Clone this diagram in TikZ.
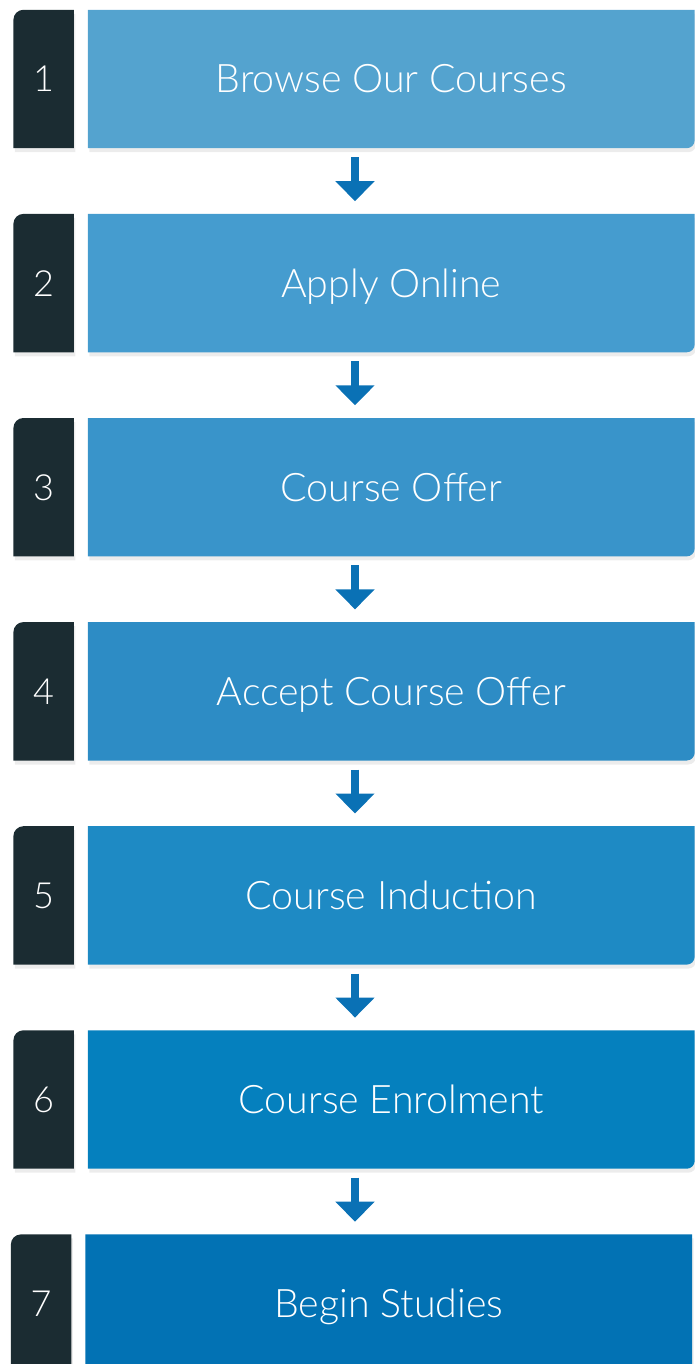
\documentclass[tikz,border=0pt]{standalone}
\usepackage{fontspec}
\setmainfont{Lato Light}
\usetikzlibrary{arrows.meta, positioning, backgrounds, shadows}
\definecolor{darkslate}{HTML}{1B2C32}
\definecolor{arrowblue}{HTML}{0A71B5}
\definecolor{s1}{HTML}{54A3CF}
\definecolor{s2}{HTML}{459CCF}
\definecolor{s3}{HTML}{3994CA}
\definecolor{s4}{HTML}{2D8CC5}
\definecolor{s5}{HTML}{1E8AC4}
\definecolor{s6}{HTML}{0580BE}
\definecolor{s7}{HTML}{0272B4}

\begin{document}
\begin{tikzpicture}[
        x=1pt, y=1pt,
        node distance=65.7pt and 14pt,
        stepbox/.style={minimum width=606.5pt, minimum height=138pt, inner sep=0pt, text=white, text height=28pt, text depth=0pt, font=\fontsize{39.3}{41}\selectfont},
        numbox/.style={minimum width=60pt, minimum height=138pt, inner sep=0pt, text=white, text height=26pt, text depth=0pt, font=\fontsize{36}{38}\selectfont},
        arrow/.style={-{Triangle[width=38pt, length=20pt]}, line width=8pt, draw=arrowblue},
        softshadow/.style={drop shadow={opacity=0.15, shadow xshift=1.5pt, shadow yshift=-4pt}}
    ]
        \useasboundingbox (0,0) rectangle (695,-1364);

        % Steps
        \node[stepbox] (b1) at (391.25,-79) {Browse Our Courses};
        \node[stepbox, below=of b1] (b2) {Apply Online};
        \node[stepbox, below=of b2] (b3) {Course Offer};
        \node[stepbox, below=of b3] (b4) {Accept Course Offer};
        \node[stepbox, below=of b4] (b5) {Course Induction};
        \node[stepbox, below=of b5] (b6) {Course Enrolment};
        \node[stepbox, below=of b6, xshift=-2.5pt] (b7) {Begin Studies};

        % Numbers
        \foreach \i in {1,...,7}
            \node[numbox, left=of b\i] (n\i) {\i};

        % Box fills
        \begin{scope}[on background layer]
            \foreach \i in {1,...,7} {
                \fill[darkslate, softshadow] (n\i.south west) -- ([yshift=-10pt]n\i.north west)
                    arc[start angle=180, end angle=90, radius=10pt] -- (n\i.north east) -- (n\i.south east) -- cycle;
                \fill[s\i, softshadow] (b\i.south west) -- (b\i.north west) -- (b\i.north east)
                    -- ([yshift=8pt]b\i.south east) arc[start angle=0, end angle=-90, radius=8pt] -- cycle;
            }
        \end{scope}

        % Arrows
        \foreach \i in {1,...,6}
            \draw[arrow] ([xshift=-36.25pt, yshift=-9pt]b\i.south) -- ++(0,-44);
    \end{tikzpicture}
\end{document}
